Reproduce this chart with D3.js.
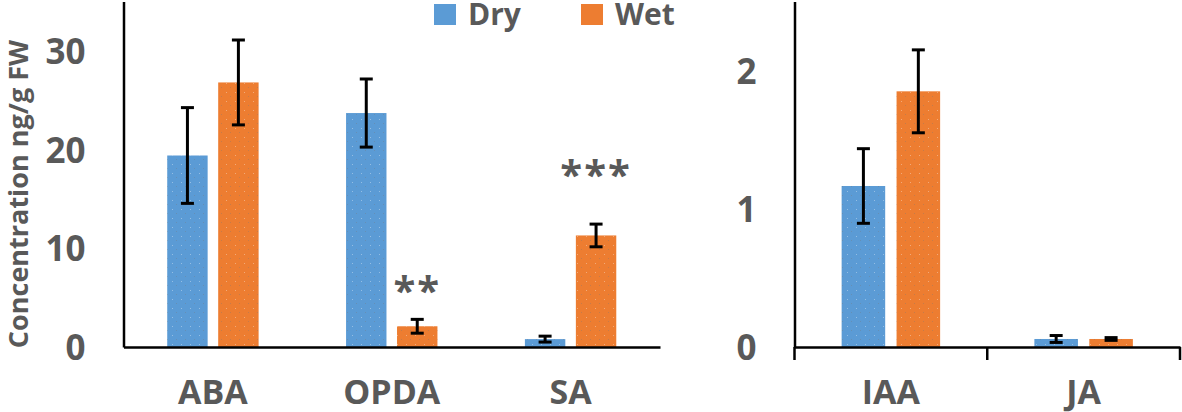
<!DOCTYPE html>
<html><head><meta charset="utf-8">
<script src="https://cdn.jsdelivr.net/npm/d3@7"></script>
<style>
html,body{margin:0;padding:0;background:#fff;}
svg{display:block;}
text{font-family:"Open Sans",Lato,sans-serif;font-weight:700;fill:#595959;}
</style></head>
<body>
<svg id="chart" width="1182" height="412"></svg>
<script>
// ---- data ----
const leftCategories = ["ABA", "OPDA", "SA"];
const leftDry = [19.4, 23.7, 0.8];
const leftDryErr = [4.85, 3.45, 0.3];
const leftWet = [26.8, 2.1, 11.3];
const leftWetErr = [4.3, 0.7, 1.15];
const leftTicks = [0, 10, 20, 30];
const leftMax = 35;

const rightCategories = ["IAA", "JA"];
const rightDry = [1.165, 0.058];
const rightDryErr = [0.27, 0.025];
const rightWet = [1.85, 0.058];
const rightWetErr = [0.30, 0.01];
const rightTicks = [0, 1, 2];
const rightMax = 2.5;

const seriesNames = ["Dry", "Wet"];
const seriesColors = ["#5B9BD5", "#ED7D31"];
// significance marks: [category, series, text, y-value]
const annotations = [["OPDA", "Wet", "**", 6.6], ["SA", "Wet", "***", 18.4]];
const yTitle = "Concentration ng/g FW";

// ---- drawing ----
const svg = d3.select("#chart");
const yTop = 1.5, yBase = 347;

const defs = svg.append("defs");
const pat = defs.append("pattern").attr("id", "dots").attr("patternUnits", "userSpaceOnUse")
  .attr("width", 9).attr("height", 9);
pat.append("rect").attr("x", 1).attr("y", 2).attr("width", 1).attr("height", 1).attr("fill", "#fff").attr("opacity", 0.35);
pat.append("rect").attr("x", 5).attr("y", 6).attr("width", 1).attr("height", 1).attr("fill", "#777").attr("opacity", 0.35);

function panel(cfg) {
  const x = d3.scaleBand().domain(cfg.cats).range([cfg.x0, cfg.x1]).padding(0);
  const y = d3.scaleLinear().domain([0, cfg.max]).range([yBase, yTop]);
  const bw = x.bandwidth() * 0.226, off = x.bandwidth() * 0.1425;
  const g = svg.append("g");
  const series = [
    {name: "Dry", vals: cfg.dry, errs: cfg.dryErr, color: seriesColors[0], dx: -off},
    {name: "Wet", vals: cfg.wet, errs: cfg.wetErr, color: seriesColors[1], dx: off}
  ];
  series.forEach(s => {
    const cx = i => x(cfg.cats[i]) + x.bandwidth() / 2 + s.dx;
    g.selectAll(null).data(s.vals).join("rect")
      .attr("x", (d, i) => cx(i) - bw / 2)
      .attr("width", bw)
      .attr("y", d => y(d))
      .attr("height", d => yBase - y(d))
      .attr("fill", s.color);
    g.selectAll(null).data(s.vals).join("rect")
      .attr("x", (d, i) => cx(i) - bw / 2)
      .attr("width", bw)
      .attr("y", d => y(d))
      .attr("height", d => yBase - y(d))
      .attr("fill", "url(#dots)");
    const eb = g.selectAll(null).data(s.vals).join("g");
    eb.append("line")
      .attr("x1", (d, i) => cx(i)).attr("x2", (d, i) => cx(i))
      .attr("y1", (d, i) => y(d + s.errs[i])).attr("y2", (d, i) => y(d - s.errs[i]))
      .attr("stroke", "#000").attr("stroke-width", 3);
    [1, -1].forEach(sg => {
      eb.append("line")
        .attr("x1", (d, i) => cx(i) - 6.5).attr("x2", (d, i) => cx(i) + 6.5)
        .attr("y1", (d, i) => y(d + sg * s.errs[i])).attr("y2", (d, i) => y(d + sg * s.errs[i]))
        .attr("stroke", "#000").attr("stroke-width", 3);
    });
  });
  // axes
  const yAxis = d3.axisLeft(y).tickValues(cfg.ticks).tickSize(0).tickPadding(38).tickFormat(d3.format("d"));
  const ya = g.append("g").attr("transform", `translate(${cfg.x0},0)`).call(yAxis);
  ya.select(".domain").attr("stroke", "#000").attr("stroke-width", 2.5);
  ya.selectAll("text").style("font-size", "35px").attr("fill", "#595959").attr("dy", "0.36em");
  const xAxis = d3.axisBottom(x).tickSize(0).tickSizeOuter(0).tickFormat("");
  const xa = g.append("g").attr("transform", `translate(0,${yBase})`).call(xAxis);
  xa.select(".domain").attr("stroke", "#000").attr("stroke-width", 2.5);
  xa.selectAll(".tick").remove();
  if (cfg.tickMarks) {
    const bounds = cfg.cats.map(c => x(c)).concat([cfg.x1]);
    xa.selectAll(null).data(bounds).join("line")
      .attr("x1", d => d).attr("x2", d => d).attr("y1", 0).attr("y2", 13)
      .attr("stroke", "#000").attr("stroke-width", 2.5);
  }
  g.selectAll(null).data(cfg.cats).join("text")
    .attr("x", d => x(d) + x.bandwidth() / 2)
    .attr("y", 404)
    .attr("text-anchor", "middle")
    .style("font-size", "34px")
    .text(d => d);
  return {x, y, off};
}

const L = panel({cats: leftCategories, dry: leftDry, dryErr: leftDryErr, wet: leftWet, wetErr: leftWetErr,
  ticks: leftTicks, max: leftMax, x0: 123.5, x1: 660, tickMarks: false});
panel({cats: rightCategories, dry: rightDry, dryErr: rightDryErr, wet: rightWet, wetErr: rightWetErr,
  ticks: rightTicks, max: rightMax, x0: 794.5, x1: 1180, tickMarks: true});

// annotations
svg.append("g").selectAll("text").data(annotations).join("text")
  .attr("x", d => L.x(d[0]) + L.x.bandwidth() / 2 + (d[1] === "Wet" ? L.off : -L.off))
  .attr("y", d => L.y(d[3]))
  .attr("text-anchor", "middle")
  .attr("dy", "0.58em")
  .style("font-size", "40px")
  .style("letter-spacing", "2px")
  .attr("fill", "#404040")
  .text(d => d[2]);

// y title
svg.append("text")
  .attr("transform", "translate(28,194) rotate(-90)")
  .attr("text-anchor", "middle")
  .style("font-size", "27px")
  .text(yTitle);

// legend
const lg = svg.append("g").selectAll("g").data(seriesNames).join("g")
  .attr("transform", (d, i) => `translate(${[434, 581][i]},0)`);
lg.append("rect").attr("x", 0).attr("y", 4).attr("width", 22).attr("height", 21)
  .attr("fill", (d, i) => seriesColors[i]);
lg.append("text").attr("x", 34).attr("y", 25).style("font-size", "30px").text(d => d);
</script>
</body></html>
